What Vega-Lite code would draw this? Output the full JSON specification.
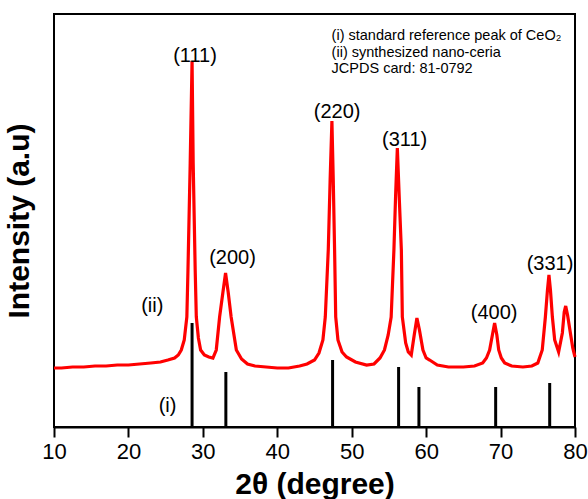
{
  "$schema": "https://vega.github.io/schema/vega-lite/v6.json",
  "width": 521,
  "height": 413,
  "autosize": {"type": "none"},
  "padding": {"left": 54, "top": 14, "right": 13, "bottom": 72},
  "background": "white",
  "config": {
    "view": {"stroke": "black", "strokeWidth": 2},
    "font": "Liberation Sans"
  },
  "datasets": {
    "pattern": [
      {"t": 10, "I": 59}, {"t": 11, "I": 59}, {"t": 12.5, "I": 60}, {"t": 14, "I": 60},
      {"t": 15.5, "I": 61}, {"t": 17, "I": 61}, {"t": 18.5, "I": 62}, {"t": 20, "I": 62},
      {"t": 21.5, "I": 63}, {"t": 23, "I": 64}, {"t": 24.3, "I": 65}, {"t": 25.3, "I": 67},
      {"t": 26.2, "I": 69}, {"t": 26.7, "I": 72}, {"t": 27.1, "I": 77}, {"t": 27.5, "I": 87},
      {"t": 27.85, "I": 110}, {"t": 28.0, "I": 157}, {"t": 28.3, "I": 264}, {"t": 28.55, "I": 366},
      {"t": 28.7, "I": 264}, {"t": 28.97, "I": 157}, {"t": 29.12, "I": 110}, {"t": 29.4, "I": 89},
      {"t": 29.7, "I": 77}, {"t": 30.2, "I": 72}, {"t": 30.8, "I": 70}, {"t": 31.35, "I": 69},
      {"t": 31.8, "I": 77}, {"t": 32.25, "I": 110}, {"t": 32.7, "I": 135}, {"t": 33.05, "I": 154},
      {"t": 33.4, "I": 135}, {"t": 33.8, "I": 110}, {"t": 34.5, "I": 77}, {"t": 35.2, "I": 68},
      {"t": 36.0, "I": 63}, {"t": 37.0, "I": 61}, {"t": 38.5, "I": 60}, {"t": 40, "I": 59},
      {"t": 41.5, "I": 59}, {"t": 43, "I": 61}, {"t": 44.0, "I": 63}, {"t": 45.0, "I": 67},
      {"t": 45.6, "I": 74}, {"t": 46.13, "I": 87}, {"t": 46.45, "I": 110}, {"t": 46.85, "I": 177},
      {"t": 47.1, "I": 247}, {"t": 47.34, "I": 306}, {"t": 47.52, "I": 247}, {"t": 47.7, "I": 177},
      {"t": 47.85, "I": 110}, {"t": 48.15, "I": 87}, {"t": 48.7, "I": 75}, {"t": 49.3, "I": 70},
      {"t": 50.5, "I": 65}, {"t": 52.0, "I": 62}, {"t": 53.0, "I": 63}, {"t": 53.8, "I": 69},
      {"t": 54.4, "I": 77}, {"t": 54.9, "I": 92}, {"t": 55.3, "I": 110}, {"t": 55.67, "I": 177},
      {"t": 55.9, "I": 232}, {"t": 56.13, "I": 279}, {"t": 56.4, "I": 227}, {"t": 56.67, "I": 177},
      {"t": 56.8, "I": 110}, {"t": 57.25, "I": 84}, {"t": 57.6, "I": 75}, {"t": 58.0, "I": 72},
      {"t": 58.4, "I": 92}, {"t": 58.76, "I": 109}, {"t": 59.1, "I": 97}, {"t": 59.57, "I": 77},
      {"t": 60.0, "I": 69}, {"t": 60.47, "I": 67}, {"t": 61.5, "I": 62}, {"t": 63, "I": 60},
      {"t": 65, "I": 60}, {"t": 66.5, "I": 61}, {"t": 67.6, "I": 64}, {"t": 68.1, "I": 69},
      {"t": 68.53, "I": 77}, {"t": 68.9, "I": 92}, {"t": 69.2, "I": 104}, {"t": 69.5, "I": 92},
      {"t": 69.75, "I": 77}, {"t": 70.1, "I": 69}, {"t": 70.55, "I": 64}, {"t": 71.5, "I": 61},
      {"t": 73, "I": 60}, {"t": 74.2, "I": 61}, {"t": 75.0, "I": 64}, {"t": 75.6, "I": 77},
      {"t": 76.02, "I": 110}, {"t": 76.3, "I": 137}, {"t": 76.5, "I": 152}, {"t": 76.7, "I": 137},
      {"t": 76.96, "I": 110}, {"t": 77.27, "I": 87}, {"t": 77.8, "I": 75}, {"t": 78.3, "I": 94},
      {"t": 78.55, "I": 115}, {"t": 78.75, "I": 121}, {"t": 79.0, "I": 112}, {"t": 79.38, "I": 94},
      {"t": 79.7, "I": 79}, {"t": 80.0, "I": 70}
    ],
    "reference": [
      {"t": 28.55, "I": 104}, {"t": 33.09, "I": 55}, {"t": 47.43, "I": 67},
      {"t": 56.3, "I": 60}, {"t": 59.03, "I": 40}, {"t": 69.34, "I": 40}, {"t": 76.6, "I": 44}
    ],
    "peaks": [
      {"t": 28.95, "I": 371, "label": "(111)"},
      {"t": 33.99, "I": 169, "label": "(200)"},
      {"t": 48.04, "I": 315, "label": "(220)"},
      {"t": 57.11, "I": 287, "label": "(311)"},
      {"t": 69.14, "I": 114.5, "label": "(400)"},
      {"t": 76.64, "I": 163, "label": "(331)"},
      {"t": 23.21, "I": 121, "label": "(ii)"},
      {"t": 25.26, "I": 21, "label": "(i)"}
    ],
    "notes": [
      {"t": 47.3, "I": 391, "label": "(i) standard reference peak of CeO₂"},
      {"t": 47.3, "I": 374, "label": "(ii) synthesized nano-ceria"},
      {"t": 47.3, "I": 358, "label": "JCPDS card: 81-0792"}
    ]
  },
  "layer": [
    {
      "data": {"name": "reference"},
      "mark": {"type": "rule", "color": "black", "strokeWidth": 3},
      "encoding": {
        "x": {"field": "t", "type": "quantitative", "scale": {"domain": [10, 80], "nice": false},
          "axis": {
            "title": "2θ (degree)",
            "values": [10, 15, 20, 25, 30, 35, 40, 45, 50, 55, 60, 65, 70, 75, 80],
            "labelExpr": "datum.value % 10 === 0 ? datum.label : ''",
            "tickSize": {"condition": {"test": "datum.value % 10 === 0", "value": 10}, "value": 5},
            "tickWidth": 2,
            "tickColor": "black",
            "domainColor": "black",
            "domainWidth": 2,
            "labelFontSize": 22,
            "labelColor": "black",
            "labelPadding": 4,
            "labelFlush": false,
            "labelOverlap": false,
            "titleFontSize": 30,
            "titleFontWeight": "bold",
            "titleColor": "black",
            "titlePadding": 7,
            "grid": false
          }
        },
        "y": {"field": "I", "type": "quantitative", "scale": {"domain": [0, 413], "nice": false},
          "axis": {
            "title": "Intensity (a.u)",
            "labels": false,
            "ticks": false,
            "domain": false,
            "grid": false,
            "titleFontSize": 30,
            "titleFontWeight": "bold",
            "titleColor": "black",
            "titlePadding": 20
          }
        },
        "y2": {"datum": 0}
      }
    },
    {
      "data": {"name": "pattern"},
      "mark": {"type": "line", "color": "#ff0000", "strokeWidth": 3.2},
      "encoding": {
        "x": {"field": "t", "type": "quantitative"},
        "y": {"field": "I", "type": "quantitative"}
      }
    },
    {
      "data": {"name": "peaks"},
      "mark": {"type": "text", "fontSize": 20, "color": "black", "align": "center", "baseline": "middle"},
      "encoding": {
        "x": {"field": "t", "type": "quantitative"},
        "y": {"field": "I", "type": "quantitative"},
        "text": {"field": "label"}
      }
    },
    {
      "data": {"name": "notes"},
      "mark": {"type": "text", "fontSize": 14.5, "color": "black", "align": "left", "baseline": "middle"},
      "encoding": {
        "x": {"field": "t", "type": "quantitative"},
        "y": {"field": "I", "type": "quantitative"},
        "text": {"field": "label"}
      }
    }
  ]
}
